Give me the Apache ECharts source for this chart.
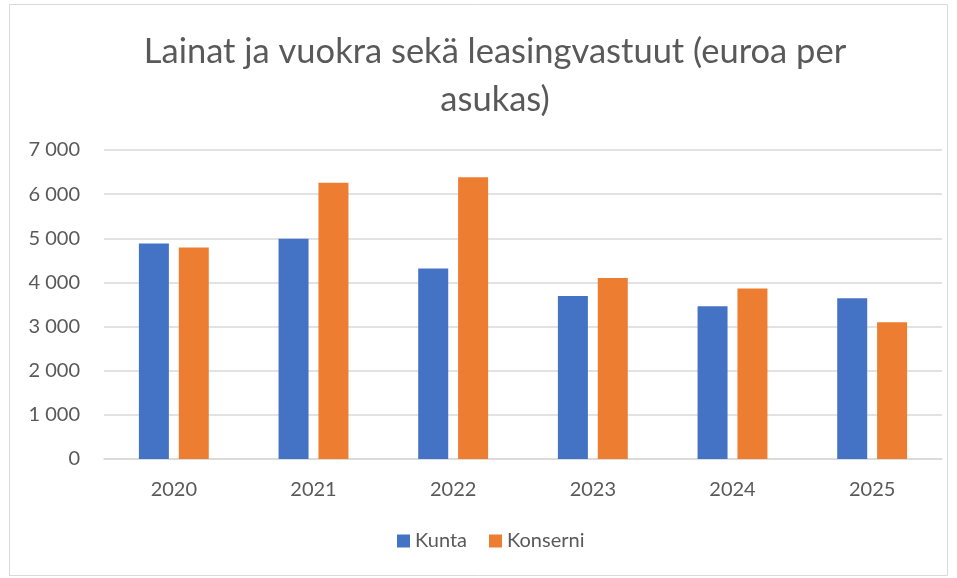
<!DOCTYPE html>
<html>
<head>
<meta charset="utf-8">
<script src="https://cdn.jsdelivr.net/npm/echarts@6/dist/echarts.min.js"></script>
<style>
  html, body { margin: 0; padding: 0; background: #fff; }
  #chart { width: 957px; height: 578px; }
</style>
</head>
<body>
<div id="chart"></div>
<script>
const years = ['2020', '2021', '2022', '2023', '2024', '2025']
const kunta = [4880, 4990, 4315, 3690, 3460, 3640]
const konserni = [4790, 6260, 6380, 4100, 3860, 3100]

const chart = echarts.init(document.getElementById('chart'))

const fmt = v => String(v).replace(/\B(?=(\d{3})+(?!\d))/g, ' ')

chart.setOption({
  animation: false,
  textStyle: { fontFamily: 'Lato, "Open Sans", sans-serif' },
  graphic: [{
    type: 'rect',
    shape: { x: 9.5, y: 4.5, width: 938, height: 571 },
    style: { fill: 'none', stroke: '#d9d9d9', lineWidth: 1 },
    silent: true
  }],
  title: {
    text: 'Lainat ja vuokra sekä leasingvastuut (euroa per\nasukas)',
    left: 490,
    textAlign: 'center',
    top: 23,
    textStyle: {
      fontSize: 34.5,
      fontWeight: 'normal',
      color: '#595959',
      lineHeight: 48,
      fontFamily: 'Lato, "Open Sans", sans-serif'
    }
  },
  legend: {
    bottom: 22,
    left: 392,
    itemWidth: 13,
    itemHeight: 13,
    itemGap: 22,
    icon: 'rect',
    textStyle: { fontSize: 20, color: '#595959' },
    data: ['Kunta', 'Konserni']
  },
  grid: { left: 104, right: 15, top: 150, bottom: 119 },
  xAxis: {
    type: 'category',
    data: years,
    axisLine: { lineStyle: { color: '#d9d9d9', width: 1.5 } },
    axisTick: { show: false },
    axisLabel: { fontSize: 20, color: '#595959', margin: 21 }
  },
  yAxis: {
    type: 'value',
    min: 0,
    max: 7000,
    interval: 1000,
    axisLine: { show: false },
    axisTick: { show: false },
    splitLine: { lineStyle: { color: '#d9d9d9', width: 1.5 } },
    axisLabel: { fontSize: 20, color: '#595959', margin: 24, formatter: fmt }
  },
  series: [
    {
      name: 'Kunta',
      type: 'bar',
      data: kunta,
      barWidth: 30,
      barGap: '33%',
      itemStyle: { color: '#4472C4' }
    },
    {
      name: 'Konserni',
      type: 'bar',
      data: konserni,
      barWidth: 30,
      itemStyle: { color: '#ED7D31' }
    }
  ]
})
</script>
</body>
</html>
